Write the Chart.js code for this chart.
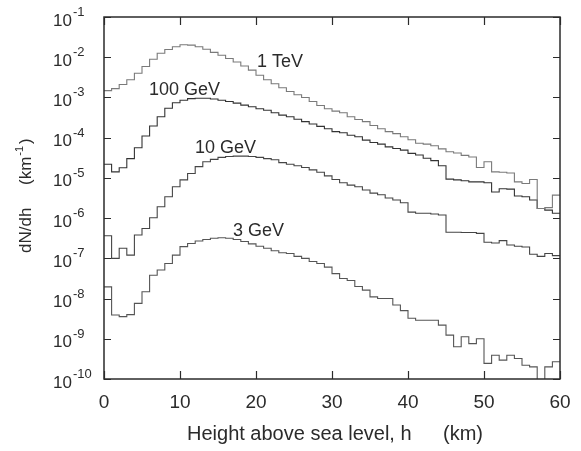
<!DOCTYPE html>
<html>
<head>
<meta charset="utf-8">
<script src="https://cdn.jsdelivr.net/npm/chart.js@4.4.1/dist/chart.umd.min.js"></script>
<style>
  html, body { margin: 0; padding: 0; background: #fff; }
  #wrap { width: 581px; height: 451px; }
</style>
</head>
<body>
<div id="wrap"><canvas id="chart" width="581" height="451"></canvas></div>
<script>
// bin lower edges, km (1 km bins, 0..59)
const heights = [
  0, 1, 2, 3, 4, 5, 6, 7, 8, 9, 10, 11, 12, 13, 14, 15, 16, 17, 18, 19,
  20, 21, 22, 23, 24, 25, 26, 27, 28, 29, 30, 31, 32, 33, 34, 35, 36, 37, 38, 39,
  40, 41, 42, 43, 44, 45, 46, 47, 48, 49, 50, 51, 52, 53, 54, 55, 56, 57, 58, 59
];
const hMax = 60;

// dN/dh (km^-1) per bin
const tev1 = [
  1.48e-3, 1.66e-3, 2.09e-3, 2.75e-3, 3.98e-3, 5.89e-3, 8.91e-3, 1.26e-2, 1.55e-2, 1.82e-2,
  2.04e-2, 2.0e-2, 1.82e-2, 1.58e-2, 1.32e-2, 1.12e-2, 9.33e-3, 7.59e-3, 6.03e-3, 4.79e-3,
  3.55e-3, 2.75e-3, 2.19e-3, 1.74e-3, 1.41e-3, 1.17e-3, 1.0e-3, 7.94e-4, 6.31e-4, 5.25e-4,
  4.57e-4, 4.17e-4, 3.31e-4, 2.82e-4, 2.51e-4, 2.0e-4, 1.66e-4, 1.41e-4, 1.26e-4, 1.05e-4,
  8.91e-5, 7.24e-5, 6.92e-5, 6.31e-5, 5.25e-5, 4.47e-5, 4.17e-5, 3.63e-5, 3.31e-5, 1.82e-5,
  2.51e-5, 1.41e-5, 1.38e-5, 1.32e-5, 7.94e-6, 7.24e-6, 9.12e-6, 1.74e-6, 1.82e-6, 3.72e-6
];
const gev100 = [
  2.19e-5, 1.41e-5, 1.78e-5, 3.02e-5, 5.62e-5, 1.10e-4, 1.95e-4, 3.31e-4, 5.37e-4, 7.41e-4,
  8.51e-4, 9.33e-4, 9.55e-4, 9.55e-4, 9.12e-4, 8.51e-4, 7.94e-4, 7.24e-4, 6.46e-4, 5.89e-4,
  5.25e-4, 4.79e-4, 4.17e-4, 3.63e-4, 3.31e-4, 2.88e-4, 2.51e-4, 2.19e-4, 1.91e-4, 1.66e-4,
  1.41e-4, 1.32e-4, 1.15e-4, 1.05e-4, 8.71e-5, 7.59e-5, 6.92e-5, 5.89e-5, 5.37e-5, 4.90e-5,
  4.07e-5, 3.72e-5, 3.09e-5, 2.69e-5, 2.0e-5, 9.33e-6, 8.91e-6, 8.51e-6, 7.94e-6, 7.94e-6,
  7.59e-6, 4.47e-6, 5.37e-6, 5.25e-6, 3.55e-6, 3.39e-6, 2.82e-6, 1.74e-6, 1.58e-6, 1.32e-6
];
const gev10 = [
  3.63e-7, 1.0e-7, 1.78e-7, 1.20e-7, 3.80e-7, 5.50e-7, 1.02e-6, 1.91e-6, 3.39e-6, 6.03e-6,
  8.91e-6, 1.29e-5, 1.91e-5, 2.51e-5, 2.88e-5, 3.24e-5, 3.39e-5, 3.47e-5, 3.47e-5, 3.39e-5,
  3.24e-5, 3.02e-5, 2.82e-5, 2.40e-5, 2.19e-5, 2.0e-5, 1.82e-5, 1.58e-5, 1.38e-5, 1.12e-5,
  9.12e-6, 7.59e-6, 6.61e-6, 6.03e-6, 5.01e-6, 4.17e-6, 3.80e-6, 3.16e-6, 2.82e-6, 2.40e-6,
  1.41e-6, 1.32e-6, 1.32e-6, 1.26e-6, 1.20e-6, 4.47e-7, 4.47e-7, 4.37e-7, 4.37e-7, 4.17e-7,
  2.51e-7, 2.40e-7, 2.75e-7, 2.14e-7, 2.0e-7, 1.91e-7, 1.26e-7, 1.12e-7, 1.32e-7, 1.17e-7
];
const gev3 = [
  1.95e-8, 3.89e-9, 3.55e-9, 3.98e-9, 7.59e-9, 1.48e-8, 3.80e-8, 5.13e-8, 7.41e-8, 1.20e-7,
  1.95e-7, 2.34e-7, 2.69e-7, 2.95e-7, 3.16e-7, 3.24e-7, 3.16e-7, 2.95e-7, 2.63e-7, 2.29e-7,
  2.0e-7, 1.78e-7, 1.55e-7, 1.38e-7, 1.32e-7, 1.12e-7, 1.0e-7, 8.32e-8, 7.41e-8, 6.03e-8,
  4.17e-8, 3.16e-8, 2.82e-8, 2.0e-8, 1.62e-8, 1.10e-8, 1.0e-8, 1.0e-8, 6.92e-9, 5.01e-9,
  3.24e-9, 2.88e-9, 2.88e-9, 2.88e-9, 2.19e-9, 1.23e-9, 6.31e-10, 1.12e-9, 7.59e-10, 1.0e-9,
  2.45e-10, 3.89e-10, 2.95e-10, 3.89e-10, 3.24e-10, 2.19e-10, 2.0e-10, 5e-11, 2.0e-10, 2.69e-10
];

const seriesNames = ['1 TeV', '100 GeV', '10 GeV', '3 GeV'];
const xTicks = [0, 10, 20, 30, 40, 50, 60];
const yExponents = [-1, -2, -3, -4, -5, -6, -7, -8, -9, -10];

const FONT = '"Liberation Sans", Arial, Helvetica, sans-serif';
const INK = '#2b2b2b';

function steps(vals) {
  const pts = heights.map((h, i) => ({ x: h, y: vals[i] }));
  pts.push({ x: hMax, y: vals[vals.length - 1] });
  return pts;
}

function histo(label, vals, color) {
  return {
    label: label,
    data: steps(vals),
    borderColor: color,
    borderWidth: 1.1,
    pointRadius: 0,
    stepped: true,
    fill: false
  };
}

const framePlugin = {
  id: 'frame',
  afterDraw(chart) {
    const { ctx, chartArea: a, scales: { x, y } } = chart;
    ctx.save();
    ctx.strokeStyle = INK;
    ctx.lineWidth = 1.5;
    ctx.strokeRect(a.left, a.top, a.right - a.left, a.bottom - a.top);

    ctx.lineWidth = 1.2;
    ctx.beginPath();
    xTicks.forEach(v => {
      const px = Math.round(x.getPixelForValue(v)) + 0.5;
      ctx.moveTo(px, a.bottom); ctx.lineTo(px, a.bottom - 8);
      ctx.moveTo(px, a.top); ctx.lineTo(px, a.top + 8);
    });
    yExponents.forEach(e => {
      const py = Math.round(y.getPixelForValue(Math.pow(10, e))) + 0.5;
      ctx.moveTo(a.left, py); ctx.lineTo(a.left + 7, py);
      ctx.moveTo(a.right, py); ctx.lineTo(a.right - 7, py);
    });
    ctx.stroke();

    ctx.fillStyle = INK;
    ctx.textBaseline = 'alphabetic';

    // x tick labels
    ctx.font = '19px ' + FONT;
    ctx.textAlign = 'center';
    xTicks.forEach(v => ctx.fillText(String(v), x.getPixelForValue(v), 408));

    // y tick labels 10^e
    yExponents.forEach(e => {
      const py = y.getPixelForValue(Math.pow(10, e));
      ctx.font = '17px ' + FONT;
      ctx.textAlign = 'right';
      ctx.fillText('10', 72, py + 8.5);
      ctx.font = '13px ' + FONT;
      ctx.textAlign = 'left';
      ctx.fillText(String(e), 73, py - 1);
    });

    // x axis title
    ctx.textAlign = 'left';
    ctx.font = '20px ' + FONT;
    ctx.fillText('Height above sea level, h', 187, 440);
    ctx.fillText('(km)', 443, 440);

    // y axis title, rotated
    ctx.save();
    ctx.translate(31, 253);
    ctx.rotate(-Math.PI / 2);
    ctx.font = '17px ' + FONT;
    ctx.fillText('dN/dh', 0, 0);
    ctx.fillText('(km', 68, 0);
    const w = ctx.measureText('(km').width;
    ctx.font = '11px ' + FONT;
    ctx.fillText('-1', 68 + w + 1, -8);
    const w2 = ctx.measureText('-1').width;
    ctx.font = '17px ' + FONT;
    ctx.fillText(')', 68 + w + w2 + 3, 0);
    ctx.restore();

    // curve labels
    ctx.font = '18px ' + FONT;
    ctx.fillText(seriesNames[0], 257, 67);
    ctx.fillText(seriesNames[1], 149, 95);
    ctx.fillText(seriesNames[2], 195, 153);
    ctx.fillText(seriesNames[3], 233, 236);
    ctx.restore();
  }
};

new Chart(document.getElementById('chart'), {
  type: 'line',
  data: {
    datasets: [
      histo(seriesNames[0], tev1, '#7a7a7a'),
      histo(seriesNames[1], gev100, '#333333'),
      histo(seriesNames[2], gev10, '#454545'),
      histo(seriesNames[3], gev3, '#555555')
    ]
  },
  options: {
    responsive: false,
    animation: false,
    layout: { padding: { left: 104, right: 21, top: 17, bottom: 72 } },
    plugins: { legend: { display: false }, tooltip: { enabled: false } },
    scales: {
      x: { type: 'linear', min: 0, max: hMax, display: false },
      y: { type: 'logarithmic', min: 1e-10, max: 1e-1, display: false }
    }
  },
  plugins: [framePlugin]
});
</script>
</body>
</html>
